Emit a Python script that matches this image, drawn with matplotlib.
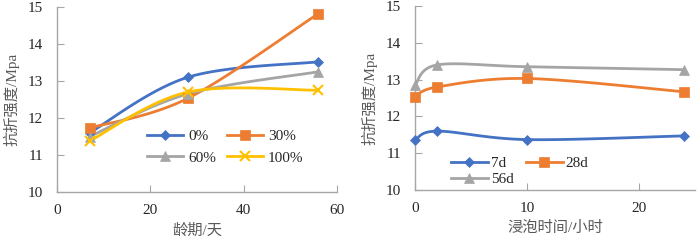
import numpy as np
import matplotlib
matplotlib.use("Agg")
import matplotlib.pyplot as plt
from matplotlib.lines import Line2D
from matplotlib.font_manager import FontProperties

FAM = ['Liberation Serif', 'Noto Sans CJK SC']
plt.rcParams['font.family'] = FAM

# Left chart data
age_days = [7, 28, 56]
left_labels = ['0%', '30%', '60%', '100%']
s0 = [11.6, 13.1, 13.52]
s30 = [11.73, 12.53, 14.82]
s60 = [11.5, 12.65, 13.25]
s100 = [11.38, 12.7, 12.75]

# Right chart data
soak_hours = [0, 2, 10, 24]
right_labels = ['7d', '28d', '56d']
d7 = [11.35, 11.6, 11.37, 11.47]
d28 = [12.53, 12.8, 13.03, 12.67]
d56 = [12.85, 13.4, 13.35, 13.27]

BLUE, ORANGE, GRAY, YELLOW = '#4472C4', '#ED7D31', '#A5A5A5', '#FFC000'
SPINE = '#A6A6A6'
TXT = '#262626'
LBL = '#595959'
FS = 11

fig = plt.figure(figsize=(6.97, 2.41), dpi=100)
W, H = 697, 241
axL = fig.add_axes([57 / W, 1 - 192 / H, 280 / W, 185 / H])
axR = fig.add_axes([415 / W, 1 - 190 / H, 280 / W, 184 / H])


def smooth(x, y, w_px, h_px, xlim, ylim, n=40):
    # Excel-like smoothed line (Catmull-Rom Bezier) in pixel space
    x = np.asarray(x, float); y = np.asarray(y, float)
    px = (x - xlim[0]) / (xlim[1] - xlim[0]) * w_px
    py = (y - ylim[0]) / (ylim[1] - ylim[0]) * h_px
    P = np.column_stack([px, py])
    out = []
    m = len(P)
    for i in range(m - 1):
        p0 = P[i - 1] if i > 0 else P[i]
        p1 = P[i]; p2 = P[i + 1]
        p3 = P[i + 2] if i + 2 < m else P[i + 1]
        c1 = p1 + (p2 - p0) / 6.0
        c2 = p2 - (p3 - p1) / 6.0
        t = np.linspace(0, 1, n)[:, None]
        seg = ((1 - t) ** 3) * p1 + 3 * ((1 - t) ** 2) * t * c1 + 3 * (1 - t) * t ** 2 * c2 + t ** 3 * p2
        out.append(seg if i == 0 else seg[1:])
    S = np.vstack(out)
    sx = S[:, 0] / w_px * (xlim[1] - xlim[0]) + xlim[0]
    sy = S[:, 1] / h_px * (ylim[1] - ylim[0]) + ylim[0]
    return sx, sy


def style(ax, xlim, xticks, xlabel):
    ax.set_xlim(*xlim)
    ax.set_ylim(10, 15)
    ax.set_xticks(xticks)
    ax.set_yticks([10, 11, 12, 13, 14, 15])
    for s in ['top', 'right']:
        ax.spines[s].set_visible(False)
    for s in ['left', 'bottom']:
        ax.spines[s].set_color(SPINE)
        ax.spines[s].set_linewidth(1.0)
    ax.tick_params(axis='x', direction='in', length=5, color=SPINE, labelsize=FS,
                   labelcolor=TXT, pad=9)
    ax.tick_params(axis='y', direction='in', length=5, color=SPINE, labelsize=FS,
                   labelcolor=TXT, pad=10)
    for lab in ax.get_xticklabels() + ax.get_yticklabels():
        lab.set_family(FAM)
    ax.set_xlabel(xlabel, fontsize=FS, color=LBL, labelpad=4, family=FAM)
    ax.set_ylabel('抗折强度/Mpa', fontsize=FS, color=LBL, labelpad=6, family=FAM)


legprop = FontProperties(family=FAM, size=FS)

# Left
xlimL = (0, 60)
style(axL, xlimL, [0, 20, 40, 60], '龄期/天')
series_L = [(s0, BLUE, 'D', 5.5), (s30, ORANGE, 's', 7), (s60, GRAY, '^', 6.5), (s100, YELLOW, 'x', 7)]
handlesL = []
for (vals, c, mk, ms), lab in zip(series_L, left_labels):
    sx, sy = smooth(age_days, vals, 280, 185, xlimL, (10, 15))
    axL.plot(sx, sy, color=c, lw=2, solid_capstyle='round', zorder=2)
    axL.plot(age_days, vals, ls='none', marker=mk, color=c, ms=ms, mew=1.5 if mk == 'x' else 0.5, zorder=3)
    handlesL.append(Line2D([], [], color=c, lw=2, marker=mk, ms=ms, mew=1.5 if mk == 'x' else 0.5))
orderL = [0, 2, 1, 3]
axL.legend([handlesL[i] for i in orderL], [left_labels[i] for i in orderL], ncol=2,
           frameon=False, prop=legprop,
           loc='center', bbox_to_anchor=(0.6, 0.242), handlelength=2.4,
           columnspacing=0.7, handletextpad=0.3, labelspacing=0.5, labelcolor=TXT)

# Right
xlimR = (0, 25)
style(axR, xlimR, [0, 10, 20], '浸泡时间/小时')
series_R = [(d7, BLUE, 'D', 5.5), (d28, ORANGE, 's', 7), (d56, GRAY, '^', 6.5)]
handlesR = []
for (vals, c, mk, ms), lab in zip(series_R, right_labels):
    sx, sy = smooth(soak_hours, vals, 280, 184, xlimR, (10, 15))
    axR.plot(sx, sy, color=c, lw=2, solid_capstyle='round', zorder=2)
    axR.plot(soak_hours, vals, ls='none', marker=mk, color=c, ms=ms, mew=0.5, zorder=3, clip_on=False)
    handlesR.append(Line2D([], [], color=c, lw=2, marker=mk, ms=ms, mew=0.5))
orderR = [0, 2, 1]
axR.legend([handlesR[i] for i in orderR], [right_labels[i] for i in orderR], ncol=2,
           frameon=False, prop=legprop,
           loc='upper left', bbox_to_anchor=(0.08, 0.258), handlelength=2.4,
           columnspacing=0.8, handletextpad=0.2, labelspacing=0.15, labelcolor=TXT)

fig.savefig('out.png', dpi=100)
